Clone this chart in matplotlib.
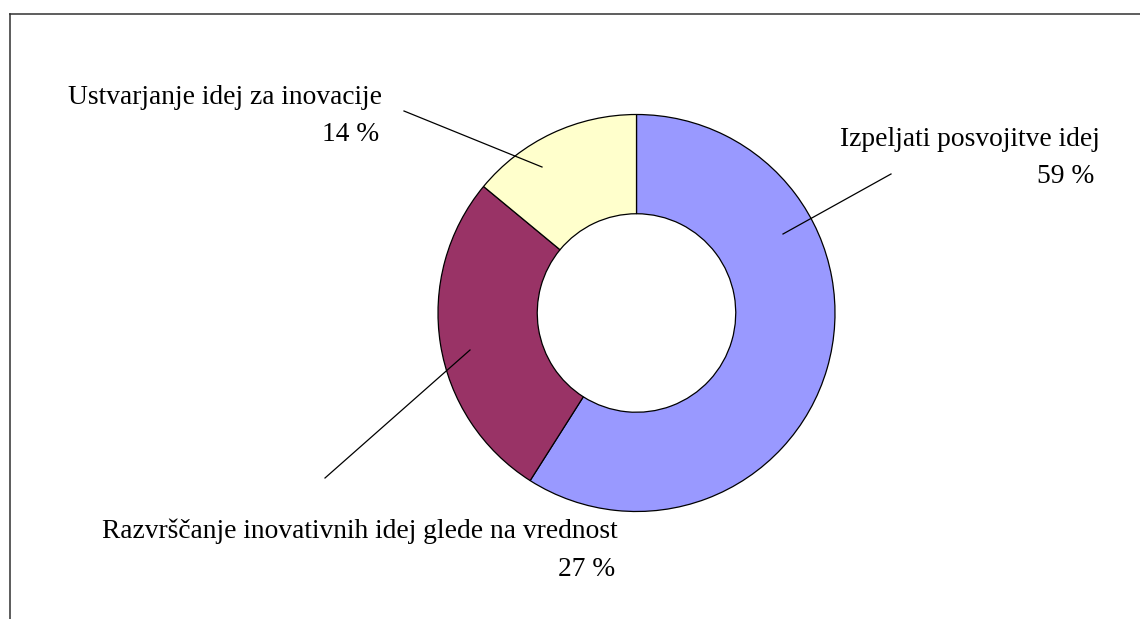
import matplotlib
matplotlib.use("Agg")
import matplotlib.pyplot as plt

# Share of activities in the innovation process
categories = ["Izpeljati posvojitve idej",
              "Razvrščanje inovativnih idej glede na vrednost",
              "Ustvarjanje idej za inovacije"]
shares = [59, 27, 14]
colors = ["#9999FF", "#993366", "#FFFFCC"]

W, H = 1140, 619
fig = plt.figure(figsize=(W / 100, H / 100), dpi=100)
ax = fig.add_axes([0, 0, 1, 1])

# Work in pixel-like coordinates (y measured upward)
cx, cy, r = 636.5, H - 313, 198.5
ax.pie(shares, colors=colors, startangle=90, counterclock=False,
       center=(cx, cy), radius=r,
       wedgeprops=dict(width=r * 0.5, edgecolor="black", linewidth=0.9))
ax.set_xlim(0, W)
ax.set_ylim(0, H)
ax.set_aspect("equal")
ax.axis("off")

font = dict(family="Liberation Serif", fontsize=19.8, color="black")

# Label layout: (name x, name baseline, pct x, pct baseline, leader start, leader end)
layout = {
    0: (1100, 146, 1094, 183, (891, 174), (783, 234)),
    1: (618, 538, 615, 576, (325, 478), (470, 350)),
    2: (382, 104, 379, 141, (404, 111), (542, 167)),
}
for i, (name, val) in enumerate(zip(categories, shares)):
    nx, ny, px, py, p0, p1 = layout[i]
    ax.text(nx, H - ny, name, ha="right", va="baseline", **font)
    ax.text(px, H - py, f"{val} %", ha="right", va="baseline", **font)
    ax.plot([p0[0], p1[0]], [H - p0[1], H - p1[1]], color="black", lw=0.9)

# Chart area frame (top and left edges)
ax.plot([9.5, W], [H - 13.5, H - 13.5], color="#505050", lw=1.3, clip_on=False)
ax.plot([9.5, 9.5], [H - 13.5, 0], color="#303030", lw=1.1, clip_on=False)

fig.savefig("out.png", dpi=100, facecolor="white")
